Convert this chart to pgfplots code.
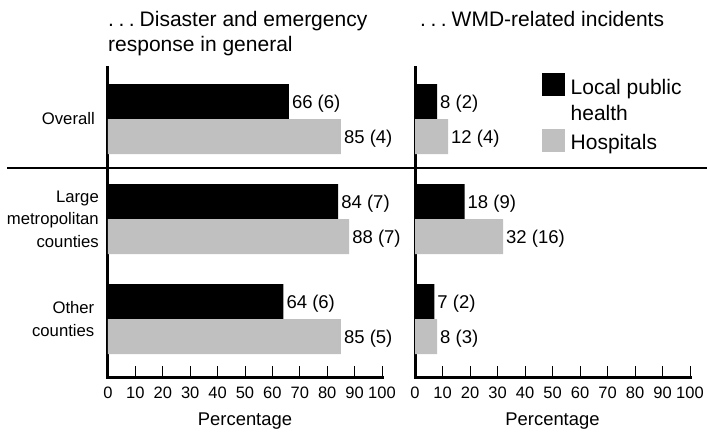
\documentclass[border=0pt]{standalone}
\usepackage{fontspec}
\setmainfont{Liberation Sans}
\usepackage{pgfplots}
\usepackage{pgfplotstable}
\pgfplotsset{compat=1.18}

\definecolor{hosp}{RGB}{192,192,192}

% y: 2 = Overall, 1 = Large metropolitan counties, 0 = Other counties
\pgfplotstableread[col sep=comma]{
y,lph,lphse,hos,hosse
2,66,6,85,4
1,84,7,88,7
0,64,6,85,5
}\general
\pgfplotstableread[col sep=comma]{
y,lph,lphse,hos,hosse
2,8,2,12,4
1,18,9,32,16
0,7,2,8,3
}\wmd

\pgfplotsset{
  panel/.style={
    scale only axis, height=310pt,
    anchor=south west,
    xbar, bar width=0.35,
    xmin=0, xmax=100, ymin=-0.58, ymax=2.52,
    axis x line*=bottom, axis y line*=left,
    axis line style={line width=3pt, black, line cap=rect},
    xtick={0,10,...,100},
    tick align=inside,
    major tick length=11pt,
    x tick style={line width=1pt, black},
    y tick style={draw=none},
    /pgf/number format/assume math mode=true,
    x tick label style={font=\fontsize{16.5}{18}\selectfont, inner sep=0pt, anchor=north, yshift=-10pt},
    every axis x label/.style={at={(rel axis cs:0.5,0)}, anchor=base, yshift=-48pt, font=\fontsize{18.4}{22}\selectfont},
    xlabel={Percentage},
    clip=false,
    point meta=x,
    nodes near coords={\pgfmathprintnumber{\pgfplotspointmeta}\ (\pgfmathprintnumber{\se})},
    every node near coord/.append style={font=\fontsize{18.5}{22}\selectfont, inner sep=0pt, xshift=3pt, yshift=-2pt, black},
  },
}

\begin{document}
\begin{tikzpicture}
\path[use as bounding box] (0pt,0pt) rectangle (707pt,-434pt);

\begin{axis}[panel, width=274pt, at={(108pt,-377pt)},
  ytick={0,1,2},
  yticklabels={{Other\hspace*{4.5pt}\\counties\hspace*{4.5pt}},{Large\\metropolitan\\counties},{Overall\hspace*{4pt}}},
  y tick label style={align=right, font=\fontsize{16.7}{22.5}\selectfont, inner sep=0pt, anchor=east, xshift=-9pt},
]
\addplot[fill=black, draw=none, bar shift=0.175,
  visualization depends on={\thisrow{lphse}\as\se}]
  table[x=lph, y=y] {\general};
\addplot[fill=hosp, draw=none, bar shift=-0.175,
  visualization depends on={\thisrow{hosse}\as\se}]
  table[x=hos, y=y] {\general};
\end{axis}

\begin{axis}[panel, width=275pt, at={(415pt,-377pt)},
  ytick=\empty,
  legend style={at={(rel axis cs:0.4618,0.9806)}, anchor=north west,
    draw=none, fill=none, inner sep=0pt, row sep=33pt,
    font=\fontsize{21}{26}\selectfont,
    nodes={inner sep=0pt, inner xsep=5.5pt}},
  legend cell align=left,
]
\addplot[fill=black, draw=none, bar shift=0.175,
  visualization depends on={\thisrow{lphse}\as\se},
  legend image code/.code={\fill[black] (0pt,-10pt) rectangle (23pt,13pt);}]
  table[x=lph, y=y] {\wmd};
\addlegendentry{\begin{tabular}[t]{@{}l@{}}Local public\\health\end{tabular}}
\addplot[fill=hosp, draw=none, bar shift=-0.175,
  visualization depends on={\thisrow{hosse}\as\se},
  legend image code/.code={\fill[hosp] (0pt,-10pt) rectangle (23pt,13pt);}]
  table[x=hos, y=y] {\wmd};
\addlegendentry{Hospitals}
\end{axis}

\draw[line width=2pt] (7pt,-168pt) -- (707pt,-168pt);

\node[anchor=base west, inner sep=0pt, font=\fontsize{21}{25}\selectfont] at (108pt,-26pt) {.\hspace{4.5pt}.\hspace{4.5pt}.\hspace{5pt}Disaster and emergency};
\node[anchor=base west, inner sep=0pt, font=\fontsize{21}{25}\selectfont] at (108pt,-51pt) {response in general};
\node[anchor=base west, inner sep=0pt, font=\fontsize{21}{25}\selectfont] at (420pt,-26pt) {.\hspace{4.5pt}.\hspace{4.5pt}.\hspace{5pt}WMD-related incidents};
\end{tikzpicture}
\end{document}
